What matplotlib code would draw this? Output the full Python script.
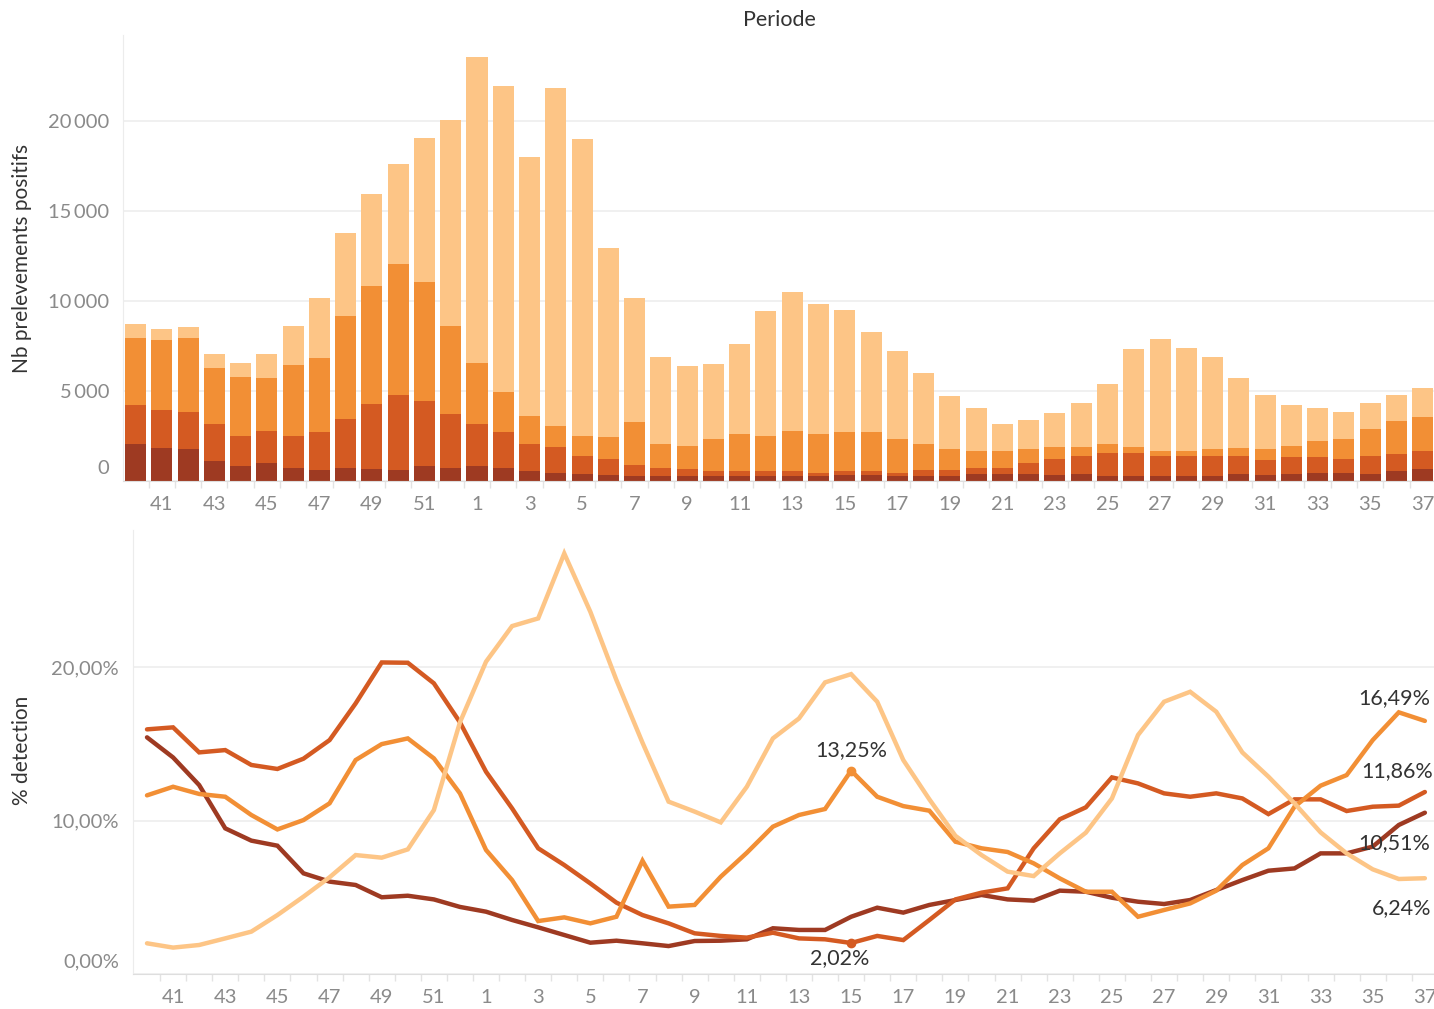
import matplotlib.pyplot as plt
import numpy as np
from matplotlib.transforms import ScaledTranslation

plt.rcParams['font.family'] = ['Lato', 'DejaVu Sans']

# weeks (Periode)
weeks = [40, 41, 42, 43, 44, 45, 46, 47, 48, 49, 50, 51, 52,
         1, 2, 3, 4, 5, 6, 7, 8, 9, 10, 11, 12, 13, 14, 15, 16, 17, 18, 19,
         20, 21, 22, 23, 24, 25, 26, 27, 28, 29, 30, 31, 32, 33, 34, 35, 36, 37]

# Nb prelevements positifs, one list per series (stacked bottom -> top)
pos_brown = [2060, 1830, 1780, 1110, 830, 1000, 720, 610, 720, 670, 610, 830, 720,
             830, 720, 560, 440, 390, 330, 280, 280, 280, 280, 280, 280, 280, 280, 330, 330, 280, 280, 280,
             390, 390, 390, 330, 390, 280, 280, 280, 280, 280, 390, 330, 390, 440, 440, 390, 560, 670]
pos_dorange = [2170, 2110, 2060, 2060, 1670, 1780, 1780, 2110, 2720, 3610, 4170, 3610, 3000,
               2330, 2000, 1500, 1440, 1000, 890, 610, 440, 390, 280, 280, 280, 280, 170, 220, 220, 170, 330, 330,
               330, 330, 610, 890, 1000, 1280, 1280, 1110, 1110, 1110, 1000, 830, 940, 890, 780, 1000, 940, 1000]
pos_orange = [3720, 3890, 4110, 3110, 3280, 2940, 3940, 4110, 5720, 6560, 7280, 6610, 4890,
              3390, 2220, 1560, 1170, 1110, 1220, 2390, 1330, 1280, 1780, 2060, 1940, 2220, 2170, 2170, 2170, 1890, 1440, 1170,
              940, 940, 780, 670, 500, 500, 330, 280, 280, 390, 440, 610, 610, 890, 1110, 1500, 1830, 1890]
pos_light = [780, 610, 610, 780, 780, 1330, 2170, 3330, 4610, 5110, 5560, 8000, 11450,
             17000, 17000, 14390, 18780, 16500, 10500, 6890, 4830, 4440, 4170, 5000, 6940, 7720, 7220, 6780, 5560, 4890, 3940, 2950,
             2390, 1500, 1610, 1890, 2440, 3330, 5440, 6220, 5720, 5110, 3890, 3000, 2280, 1830, 1500, 1440, 1440, 1610]

# % detection
det_brown = [15.42, 14.11, 12.31, 9.49, 8.69, 8.36, 6.56, 6.02, 5.80, 5.00, 5.10, 4.86, 4.37,
             4.06, 3.52, 3.04, 2.54, 2.04, 2.17, 2.00, 1.82, 2.15, 2.17, 2.26, 2.98, 2.87, 2.87, 3.73, 4.32, 4.00, 4.50, 4.82,
             5.15, 4.86, 4.78, 5.43, 5.36, 4.97, 4.71, 4.56, 4.82, 5.47, 6.12, 6.73, 6.88, 7.86, 7.86, 8.30, 9.71, 10.51]
det_dorange = [15.94, 16.07, 14.44, 14.59, 13.62, 13.36, 14.03, 15.24, 17.63, 20.30, 20.28, 18.94, 16.40,
               13.18, 10.79, 8.19, 7.10, 5.90, 4.65, 3.84, 3.30, 2.65, 2.48, 2.37, 2.69, 2.32, 2.26, 2.02, 2.48, 2.21, 3.52, 4.86,
               5.30, 5.58, 8.19, 10.08, 10.86, 12.81, 12.42, 11.77, 11.55, 11.77, 11.44, 10.42, 11.38, 11.38, 10.62, 10.90, 10.97, 11.86]
det_orange = [11.64, 12.20, 11.73, 11.55, 10.36, 9.42, 10.03, 11.12, 13.94, 14.98, 15.35, 14.05, 11.77,
              8.08, 6.12, 3.45, 3.69, 3.30, 3.73, 7.38, 4.39, 4.50, 6.34, 7.90, 9.60, 10.36, 10.75, 13.25, 11.55, 10.94, 10.64, 8.62,
              8.19, 7.95, 7.21, 6.23, 5.36, 5.36, 3.73, 4.17, 4.60, 5.43, 7.10, 8.19, 10.90, 12.27, 12.96, 15.24, 17.05, 16.49]
det_light = [2.00, 1.72, 1.89, 2.32, 2.76, 3.84, 5.04, 6.30, 7.75, 7.58, 8.12, 10.68, 16.40,
             20.35, 22.67, 23.17, 27.40, 23.60, 19.15, 15.07, 11.23, 10.58, 9.88, 12.20, 15.35, 16.65, 19.00, 19.54, 17.74, 13.94, 11.38, 9.00,
             7.75, 6.67, 6.38, 7.86, 9.21, 11.44, 15.57, 17.74, 18.39, 17.09, 14.44, 12.86, 11.12, 9.23, 7.86, 6.82, 6.19, 6.24]

colors = ['#9e3a22', '#d45a22', '#f28f35', '#fdc586']
grid_c = '#efefef'
tick_c = '#8a8a8a'
text_c = '#333333'

x = np.arange(len(weeks))

fig = plt.figure(figsize=(14.34, 10.09), dpi=100)
ax1 = fig.add_axes([123 / 1434, 1 - 481 / 1009, 1311 / 1434, 446 / 1009])
ax2 = fig.add_axes([133 / 1434, 1 - 974 / 1009, 1301 / 1434, 444 / 1009])

# top: stacked bars
bottom = np.zeros(len(weeks))
for vals, c in zip([pos_brown, pos_dorange, pos_orange, pos_light], colors):
    ax1.bar(x, vals, bottom=bottom, width=0.8, color=c, linewidth=0)
    bottom += np.array(vals)

ax1.set_xlim(-0.476, 49.43)
ax1.set_ylim(0, 24778)
ax1.set_yticks([0, 5000, 10000, 15000, 20000])
ax1.set_yticklabels(['0', '5\u2009000', '10\u2009000', '15\u2009000', '20\u2009000'])

# bottom: lines
for vals, c in zip([det_brown, det_dorange, det_orange, det_light], colors):
    ax2.plot(x, vals, color=c, lw=3.2, solid_joinstyle='miter', solid_capstyle='round')

ax2.set_xlim(-0.537, 49.35)
ax2.set_ylim(0, 28.93)
ax2.set_yticks([0, 10, 20])
ax2.set_yticklabels(['0,00%', '10,00%', '20,00%'])

# markers and labels
i15 = weeks.index(15)
ax2.plot(x[i15], det_orange[i15], 'o', color=colors[2], ms=6)
ax2.plot(x[i15], det_dorange[i15], 'o', color=colors[1], ms=6)
ax2.annotate('13,25%', xy=(x[i15], det_orange[i15]), xytext=(0, 15), textcoords='offset points',
             ha='center', va='center', fontsize=15.5, color=text_c)
ax2.annotate('2,02%', xy=(x[i15], det_dorange[i15]), xytext=(-8.6, -11), textcoords='offset points',
             ha='center', va='center', fontsize=15.5, color=text_c)
last = len(weeks) - 1
end_labels = [(det_orange, '16,49%', 4, 16.5), (det_dorange, '11,86%', 6, 15),
              (det_brown, '10,51%', 3.6, -21.6), (det_light, '6,24%', 5, -21.6)]
for vals, txt, dx, dy in end_labels:
    ax2.annotate(txt, xy=(x[last], vals[last]), xytext=(dx, dy), textcoords='offset points',
                 ha='right', va='center', fontsize=15.5, color=text_c, annotation_clip=False)

for ax in (ax1, ax2):
    ax.set_xticks(x[1::2])
    ax.set_xticklabels([str(w) for w in weeks[1::2]])
    ax.set_xticks(x[:-1] + 0.5, minor=True)
    ax.tick_params(axis='x', which='major', length=0, pad=11, labelsize=14.5, labelcolor=tick_c)
    ax.tick_params(axis='x', which='minor', length=5, width=1, color='#e3e3e3')
    ax.tick_params(axis='y', length=0, pad=10, labelsize=14.5, labelcolor=tick_c)
    ax.yaxis.grid(True, color=grid_c, lw=1.3)
    ax.set_axisbelow(True)
    for s in ('top', 'right'):
        ax.spines[s].set_visible(False)
    ax.spines['left'].set_color('#ececec')
    ax.spines['bottom'].set_color('#dedede')
    # zero label sits a bit higher, like the original
    lab = ax.get_yticklabels()[0]
    lab.set_transform(lab.get_transform() + ScaledTranslation(0, 0.14, fig.dpi_scale_trans))

fig.text(779 / 1434, 1 - 20 / 1009, 'Periode', ha='center', va='center', fontsize=15.5, color=text_c)
fig.text(22 / 1434, 1 - 258 / 1009, 'Nb prelevements positifs', rotation=90,
         ha='center', va='center', fontsize=15, color=text_c)
fig.text(22 / 1434, 1 - 750 / 1009, '% detection', rotation=90,
         ha='center', va='center', fontsize=15, color=text_c)

fig.savefig('out.png', dpi=100)
